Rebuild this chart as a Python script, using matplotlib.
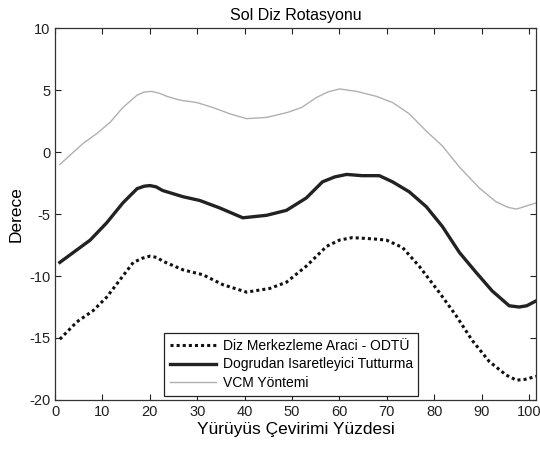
import matplotlib.pyplot as plt

plt.rcParams['font.family'] = ['Liberation Sans', 'DejaVu Sans']
plt.rcParams['axes.unicode_minus'] = False

# Diz Merkezleme Araci - ODTU (dotted)
odtu_x = [1, 4.6, 8, 10.9, 13.7, 16.5, 18.5, 20, 21.5, 22.7, 27, 31.2, 35.4, 40.4, 45.3, 48.8,
          53, 57.3, 60, 62.7, 67, 69.9, 73.3, 76.8, 81, 84.6, 88, 91.6, 95.2, 97.3, 99, 101.5]
odtu_y = [-15.1, -13.7, -12.8, -11.7, -10.3, -8.9, -8.55, -8.4, -8.5, -8.8, -9.5, -9.9, -10.7, -11.3, -11.0, -10.5,
          -9.2, -7.6, -7.1, -6.9, -7.0, -7.1, -7.7, -9.2, -11.3, -13.2, -15.2, -16.9, -18.0, -18.4, -18.35, -18.1]

# Dogrudan Isaretleyici Tutturma (solid)
dit_x = [1, 7.4, 10.9, 14.3, 17.3, 18.8, 20, 21.3, 22.7, 27, 30.5, 34.7, 39.6, 44.6, 48.8, 53,
         56.4, 59, 61.5, 64.8, 68.4, 71.2, 74.7, 78.3, 81.7, 85.3, 88.8, 92.2, 95.8, 97.9, 99.5, 101.5]
dit_y = [-8.9, -7.1, -5.7, -4.1, -2.95, -2.75, -2.7, -2.8, -3.1, -3.6, -3.9, -4.5, -5.3, -5.1, -4.7, -3.7,
         -2.4, -2.0, -1.8, -1.9, -1.9, -2.4, -3.2, -4.4, -6.0, -8.1, -9.7, -11.2, -12.4, -12.5, -12.4, -12.0]

# VCM Yontemi (light gray)
vcm_x = [1, 5.9, 8.8, 11.6, 14.3, 17.3, 18.8, 20.4, 22, 23.6, 26.3, 29.9, 33.3, 36.8, 40.4, 44.6,
         49, 52, 55.1, 57.5, 60, 63.6, 67.8, 71.2, 74.7, 78.3, 81.7, 85.3, 89.5, 93, 95.5, 97.3, 101.5]
vcm_y = [-1.0, 0.7, 1.5, 2.4, 3.6, 4.6, 4.85, 4.9, 4.75, 4.5, 4.2, 4.0, 3.6, 3.1, 2.7, 2.8,
         3.2, 3.6, 4.4, 4.85, 5.1, 4.9, 4.5, 4.0, 3.1, 1.7, 0.5, -1.2, -2.9, -4.0, -4.45, -4.6, -4.1]

fig = plt.figure(figsize=(5.4, 4.55), dpi=100)
ax = fig.add_axes([0.102, 0.121, 0.891, 0.817])

ax.plot(odtu_x, odtu_y, color='#111111', linestyle=(0, (1, 1)), linewidth=2.2,
        label='Diz Merkezleme Araci - ODTÜ')
ax.plot(dit_x, dit_y, color='#222222', linewidth=2.4, solid_joinstyle='round',
        label='Dogrudan Isaretleyici Tutturma')
ax.plot(vcm_x, vcm_y, color='#b0b0b0', linewidth=1.0, solid_joinstyle='round',
        label='VCM Yöntemi')

ax.set_xlim(0, 101.5)
ax.set_ylim(-20, 10)
ax.set_xticks(range(0, 101, 10))
ax.set_yticks(range(-20, 11, 5))
ax.tick_params(direction='in', top=True, right=True, labelsize=10.5, length=4,
               colors='#222222')
for s in ax.spines.values():
    s.set_color('#333333')
    s.set_linewidth(0.9)

ax.set_title('Sol Diz Rotasyonu', fontsize=11.5, pad=6)
ax.set_xlabel('Yürüyüs Çevirimi Yüzdesi', fontsize=12.5, labelpad=2)
ax.set_ylabel('Derece', fontsize=12.5, labelpad=4)

leg = ax.legend(loc='lower left', bbox_to_anchor=(0.227, 0.011), fontsize=10,
                handlelength=3.3, fancybox=False, framealpha=1, borderaxespad=0,
                labelspacing=0.35, handletextpad=0.5, borderpad=0.4)
leg.get_frame().set_edgecolor('#222222')
leg.get_frame().set_linewidth(0.9)

fig.savefig('out.png', dpi=100)
